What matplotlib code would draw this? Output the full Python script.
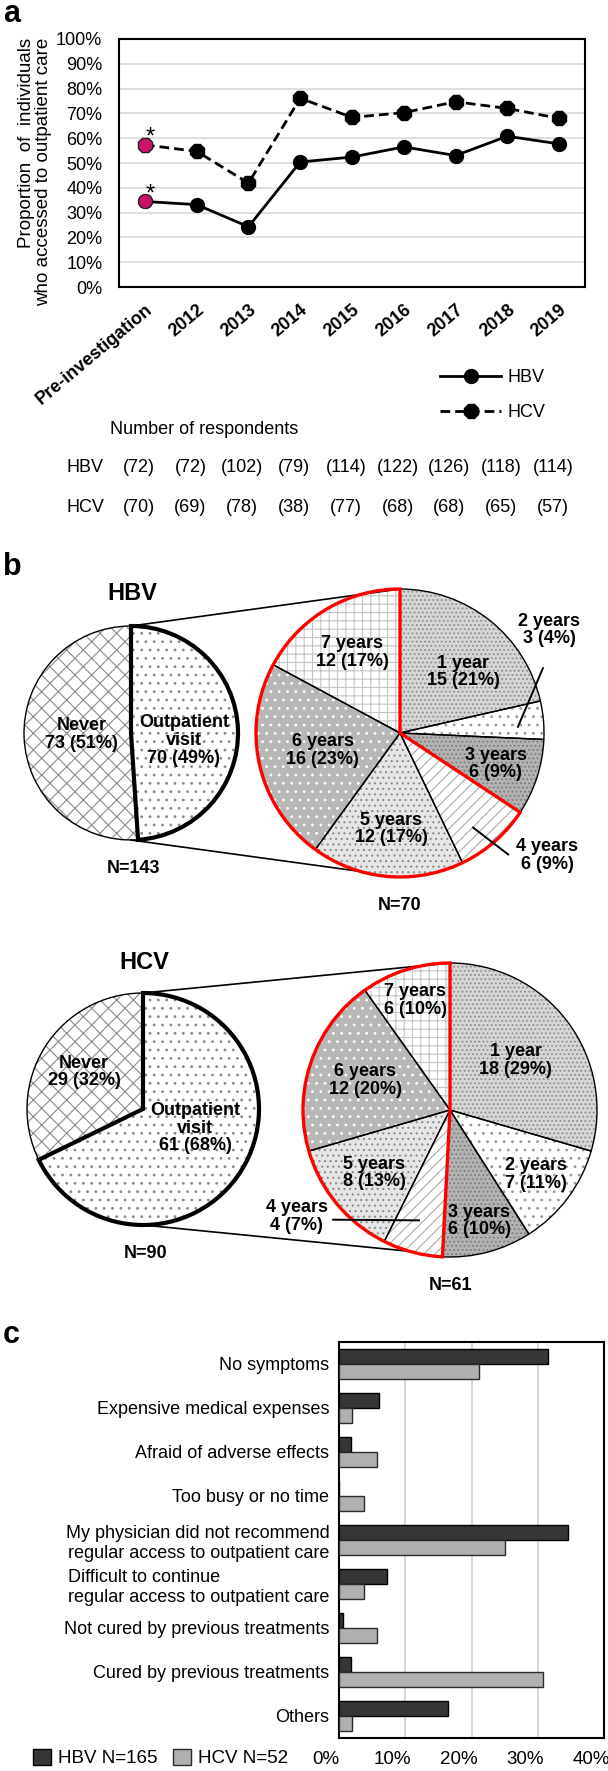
import numpy as np
import matplotlib
matplotlib.use('Agg')
import matplotlib.pyplot as plt
import matplotlib.transforms as mtransforms
from matplotlib.patches import Wedge
from matplotlib.ticker import PercentFormatter

plt.rcParams['font.family'] = ['Liberation Sans', 'DejaVu Sans']
plt.rcParams['hatch.linewidth'] = 0.8

# ---- panel a data ----
periods = ['Pre-investigation', '2012', '2013', '2014', '2015', '2016', '2017', '2018', '2019']
hbv_rate = [34.5, 33.2, 24.3, 50.4, 52.4, 56.5, 53.0, 60.8, 57.7]
hcv_rate = [57.3, 54.7, 41.9, 76.1, 68.4, 70.3, 74.7, 72.0, 68.0]
hbv_resp = [72, 72, 102, 79, 114, 122, 126, 118, 114]
hcv_resp = [70, 69, 78, 38, 77, 68, 68, 65, 57]

# ---- panel b data ----
access_labels = ['Outpatient\nvisit', 'Never']
hbv_access = [70, 73]
hbv_access_pct = [49, 51]
hcv_access = [61, 29]
hcv_access_pct = [68, 32]
duration_labels = ['1 year', '2 years', '3 years', '4 years', '5 years', '6 years', '7 years']
hbv_duration = [15, 3, 6, 6, 12, 16, 12]
hbv_duration_pct = [21, 4, 9, 9, 17, 23, 17]
hcv_duration = [18, 7, 6, 4, 8, 12, 6]
hcv_duration_pct = [29, 11, 10, 7, 13, 20, 10]

# ---- panel c data ----
reasons = ['No symptoms', 'Expensive medical expenses', 'Afraid of adverse effects',
           'Too busy or no time',
           'My physician did not recommend\nregular access to outpatient care',
           'Difficult to continue\nregular access to outpatient care',
           'Not cured by previous treatments', 'Cured by previous treatments', 'Others']
hbv_reason = [31.5, 6.1, 1.8, 0.0, 34.5, 7.3, 0.6, 1.8, 16.4]
hcv_reason = [21.2, 1.9, 5.8, 3.8, 25.0, 3.8, 5.8, 30.8, 1.9]
hbv_total = 165
hcv_total = 52

W, H = 608, 1771
fig = plt.figure(figsize=(W / 100, H / 100), dpi=100)


def box(l, t, r, b):
    return [l / W, 1 - b / H, (r - l) / W, (b - t) / H]


def Y(y):
    return H - y


ax_b = fig.add_axes([0, 0, 1, 1])
ax_a = fig.add_axes(box(119, 39, 585, 287))
ax_c = fig.add_axes(box(339, 1342, 604, 1738))

# ================= panel a =================
x = np.arange(len(periods))
pink = '#c8136b'
ax_a.plot(x, hbv_rate, color='black', lw=2, marker='o', ms=10, label='HBV', zorder=3)
ax_a.plot(x, hcv_rate, color='black', lw=2, ls=(0, (3.5, 1.8)), marker='8', ms=11,
          label='HCV', zorder=3)
ax_a.plot(x[0], hbv_rate[0], 'o', ms=10, mfc=pink, mec='#222222', mew=0.8, zorder=4)
ax_a.plot(x[0], hcv_rate[0], '8', ms=11, mfc=pink, mec='#222222', mew=0.8, zorder=4)
for v in (hbv_rate[0], hcv_rate[0]):
    ax_a.annotate('*', (x[0], v), xytext=(4, 5), textcoords='offset points',
                  fontsize=17, ha='center', va='center')

ax_a.set_xlim(-0.5, len(periods) - 0.5)
ax_a.set_ylim(0, 100)
ax_a.set_yticks(np.arange(0, 101, 10))
ax_a.yaxis.set_major_formatter(PercentFormatter(decimals=0))
ax_a.grid(axis='y', color='#d9d9d9', lw=1.2)
ax_a.set_axisbelow(True)
ax_a.tick_params(length=0, labelsize=13)
ax_a.tick_params(axis='y', pad=12)
ax_a.tick_params(axis='x', pad=10)
ax_a.set_xticks(x)
ax_a.set_xticklabels(periods, rotation=40, ha='right', va='top',
                     rotation_mode='anchor', fontweight='bold')
for s in ax_a.spines.values():
    s.set_linewidth(1.5)

fig.text(35 / W, 1 - 38 / H, 'Proportion  of  individuals\nwho accessed to outpatient care',
         rotation=90, ha='center', va='top', multialignment='right', fontsize=13.5,
         linespacing=1.0)

ax_a.legend(loc='center left', bbox_to_anchor=(440 / W, 1 - 395 / H),
            bbox_transform=fig.transFigure, frameon=False, fontsize=13,
            handlelength=3.4, handletextpad=0.35, labelspacing=1.0,
            borderpad=0, borderaxespad=0)

# respondents table
trans = mtransforms.blended_transform_factory(ax_a.transData, fig.transFigure)
fig.text(110 / W, 1 - 429 / H, 'Number of respondents', fontsize=13, ha='left', va='center')
for name, counts, yy in (('HBV', hbv_resp, 468), ('HCV', hcv_resp, 508)):
    fig.text(66 / W, 1 - yy / H, name, fontsize=13, ha='left', va='center')
    for xi, n in zip(x, counts):
        ax_a.text(xi - 0.12, 1 - yy / H, f'({n})', transform=trans, ha='center',
                  va='center', fontsize=13)

# ================= panel b =================
ax_b.set_axis_off()
ax_b.patch.set_visible(False)


def draw_pie(values, cx, cy, r, faces, hatches, hcolors, outline_lw):
    wedges, _ = ax_b.pie(values, startangle=90, counterclock=False, center=(cx, Y(cy)),
                         radius=r, colors=faces, wedgeprops=dict(linewidth=0))
    for w, h, hc in zip(wedges, hatches, hcolors):
        w.set_hatch(h)
        w.set_edgecolor(hc)
        w.set_linewidth(0)
    edges, _ = ax_b.pie(values, startangle=90, counterclock=False, center=(cx, Y(cy)),
                        radius=r, wedgeprops=dict(fill=False, edgecolor='black', linewidth=1.0))
    for e, lw in zip(edges, outline_lw):
        e.set_linewidth(lw)
        e.set_zorder(4 if lw > 1.5 else 3)
    return wedges


def label_pie(wedges, cx, cy, r, texts, radii, angles):
    for w, t, rf, ang in zip(wedges, texts, radii, angles):
        a = np.deg2rad((w.theta1 + w.theta2) / 2 if ang is None else ang)
        ax_b.text(cx + rf * r * np.cos(a), Y(cy) + rf * r * np.sin(a), t, ha='center',
                  va='center', fontsize=13, fontweight='bold', linespacing=1.05, zorder=6)


def leader(cx, cy, r, a1, f1, a2, f2):
    p1 = np.deg2rad(a1)
    p2 = np.deg2rad(a2)
    ax_b.plot([cx + f1 * r * np.cos(p1), cx + f2 * r * np.cos(p2)],
              [Y(cy) + f1 * r * np.sin(p1), Y(cy) + f2 * r * np.sin(p2)],
              color='black', lw=1.4, zorder=6)


def red_outline(wedges, idx, cx, cy, r):
    t1 = min(wedges[i].theta1 for i in idx)
    t2 = max(wedges[i].theta2 for i in idx)
    ax_b.add_patch(Wedge((cx, Y(cy)), r, t1, t2, fill=False, edgecolor='#ff0000',
                         lw=2.4, zorder=5))


def connect(c1, r1, c2, r2, bot1, bot2):
    for a1, a2 in ((90, 90), (bot1, bot2)):
        p1, p2 = np.deg2rad(a1), np.deg2rad(a2)
        ax_b.plot([c1[0] + r1 * np.cos(p1), c2[0] + r2 * np.cos(p2)],
                  [Y(c1[1]) + r1 * np.sin(p1), Y(c2[1]) + r2 * np.sin(p2)],
                  color='black', lw=1.2, zorder=2)


access_faces = ['white', 'white']
access_hatch = ['..', 'xx']
access_hcol = ['#8a8a8a', '#8a8a8a']
dur_faces = ['#d6d6d6', 'white', '#b3b3b3', 'white', '#e6e6e6', '#b7b7b7', 'white']
dur_hatch = ['....', '..', '....', '///', '...', '..', '++']
dur_hcol = ['#8c8c8c', '#9a9a9a', '#7a7a7a', '#ababab', '#8c8c8c', 'white', '#c4c4c4']

groups = [
    dict(title='HBV', title_y=593, access=hbv_access, access_pct=hbv_access_pct,
         dur=hbv_duration, dur_pct=hbv_duration_pct,
         left=(131, 733), rl=107, right=(400, 733), rr=144,
         left_r=[0.5, 0.46], left_a=[-8, None],
         right_r=[0.61, 1.26, 0.70, 1.33, 0.67, 0.55, 0.65],
         right_a=[44, 34.6, None, -39.8, None, None, None],
         leaders=[(3, 0.82, 24.4, 1.09), (-52.3, 0.83, -48.3, 1.13)]),
    dict(title='HCV', title_y=962, access=hcv_access, access_pct=hcv_access_pct,
         dur=hcv_duration, dur_pct=hcv_duration_pct,
         left=(143, 1109), rl=116, right=(450, 1110), rr=147,
         left_r=[0.48, 0.6], left_a=[-20, None],
         right_r=[0.56, 0.73, 0.78, 1.27, 0.67, 0.61, 0.78],
         right_a=[None, None, None, 214.8, None, None, None],
         leaders=[(-105.7, 0.78, -136.8, 1.09)]),
]

for g in groups:
    (lx, ly), rl = g['left'], g['rl']
    (rx, ry), rr = g['right'], g['rr']
    lw_left = draw_pie(g['access'], lx, ly, rl, access_faces, access_hatch, access_hcol,
                       [3.0, 1.0])
    label_pie(lw_left, lx, ly, rl,
              [f'{a}\n{n} ({p}%)' for a, n, p in zip(access_labels, g['access'], g['access_pct'])],
              g['left_r'], g['left_a'])
    rw = draw_pie(g['dur'], rx, ry, rr, dur_faces, dur_hatch, dur_hcol, [1.0] * 7)
    label_pie(rw, rx, ry, rr,
              [f'{a}\n{n} ({p}%)' for a, n, p in zip(duration_labels, g['dur'], g['dur_pct'])],
              g['right_r'], g['right_a'])
    red_outline(rw, [3, 4, 5, 6], rx, ry, rr)
    for a1, f1, a2, f2 in g['leaders']:
        leader(rx, ry, rr, a1, f1, a2, f2)
    connect((lx, ly), rl, (rx, ry), rr, -90, -106)
    ax_b.text(lx + 1, Y(g['title_y']), g['title'], fontsize=17, fontweight='bold',
              ha='center', va='center')
    ax_b.text(lx + 3, Y(ly + rl + 28), f"N={sum(g['access'])}", fontsize=13,
              fontweight='bold', ha='center', va='center')
    ax_b.text(rx, Y(ry + rr + 28), f"N={sum(g['dur'])}", fontsize=13,
              fontweight='bold', ha='center', va='center')

ax_b.set_xlim(0, W)
ax_b.set_ylim(0, H)
ax_b.set_aspect('auto')

# ================= panel c =================
yc = np.arange(len(reasons))
bh = 0.34
ax_c.barh(yc - bh / 2, hbv_reason, height=bh, color='#363636', edgecolor='black', lw=1,
          label=f'HBV N={hbv_total}', zorder=3)
ax_c.barh(yc + bh / 2, hcv_reason, height=bh, color='#b2afaf', edgecolor='#2a2a2a', lw=1,
          label=f'HCV N={hcv_total}', zorder=3)
ax_c.set_ylim(len(reasons) - 0.5, -0.5)
ax_c.set_xlim(0, 40)
ax_c.set_xticks([0, 10, 20, 30, 40])
ax_c.xaxis.set_major_formatter(PercentFormatter(decimals=0))
ax_c.set_yticks(yc)
ax_c.set_yticklabels(reasons)
ax_c.tick_params(length=0, labelsize=13)
ax_c.tick_params(axis='y', pad=7)
ax_c.tick_params(axis='x', pad=9, labelsize=13.5)
for lbl in ax_c.get_yticklabels():
    lbl.set_multialignment('left' if lbl.get_text().startswith('Difficult') else 'right')
shift = mtransforms.ScaledTranslation(-13 / 100, 0, fig.dpi_scale_trans)
for lbl in ax_c.get_xticklabels():
    lbl.set_transform(lbl.get_transform() + shift)
ax_c.grid(axis='x', color='#d0d0d0', lw=1.2)
ax_c.set_axisbelow(True)
for s in ax_c.spines.values():
    s.set_linewidth(1.5)
ax_c.legend(loc='center left', bbox_to_anchor=(33 / W, 1 - 1758 / H),
            bbox_transform=fig.transFigure, ncols=2, frameon=False, fontsize=13.5,
            handlelength=0.95, handleheight=0.95, handletextpad=0.4, columnspacing=0.8,
            borderpad=0, borderaxespad=0)

# panel letters
for letter, yy in (('a', 14), ('b', 567), ('c', 1335)):
    fig.text(3 / W, 1 - yy / H, letter, fontsize=22, fontweight='bold', ha='left', va='center')

fig.savefig('out.png', dpi=100)
